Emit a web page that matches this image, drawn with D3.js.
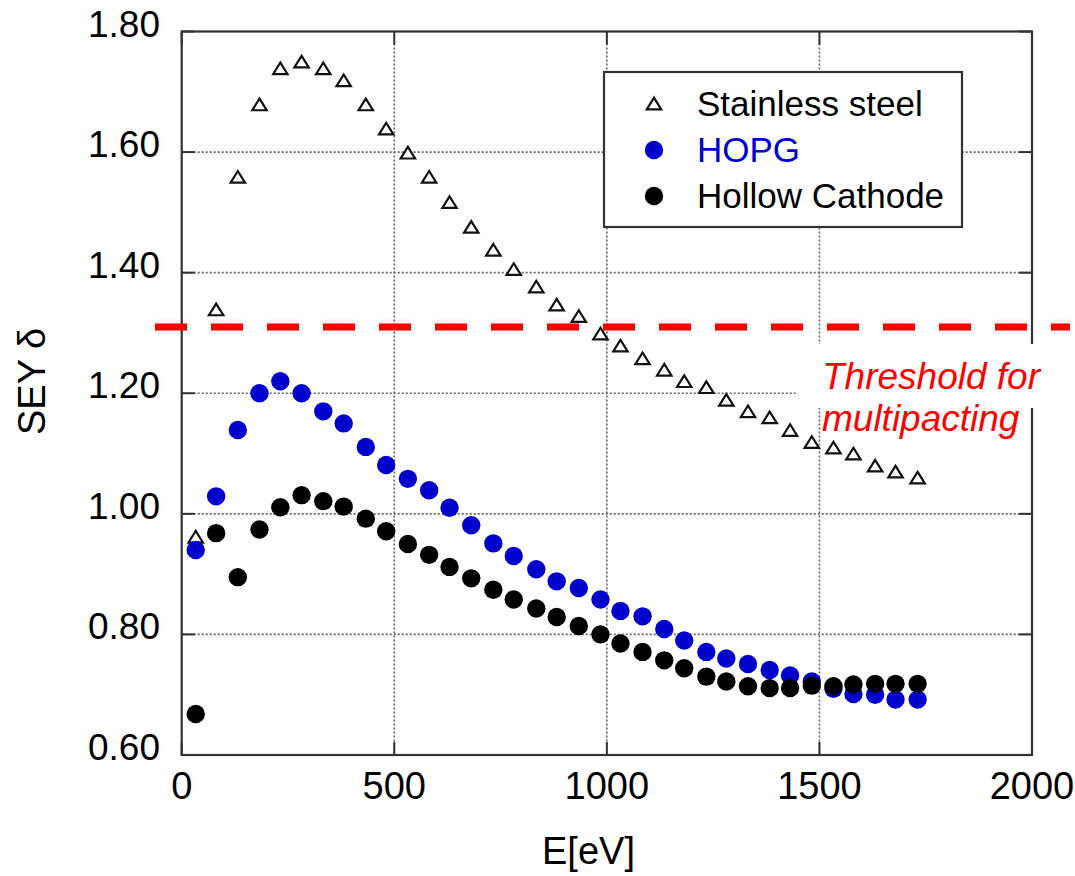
<!DOCTYPE html>
<html>
<head>
<meta charset="utf-8">
<script src="https://cdn.jsdelivr.net/npm/d3@7"></script>
<style>
  html, body { margin: 0; padding: 0; background: #fff; }
  svg text { font-family: "Liberation Sans", Arial, sans-serif; }
</style>
</head>
<body>
<svg id="chart" width="1075" height="876"></svg>
<script>
// ---- data ----
const energy = [33, 81, 132, 183, 232, 282, 333, 381, 433, 481, 532, 582, 630, 681, 733, 781, 834, 882, 934, 985, 1032, 1084, 1135, 1182, 1234, 1281, 1332, 1383, 1431, 1482, 1533, 1580, 1631, 1679, 1731];
const stainless = [0.962, 1.339, 1.559, 1.679, 1.739, 1.75, 1.739, 1.719, 1.679, 1.639, 1.599, 1.559, 1.517, 1.476, 1.438, 1.406, 1.377, 1.347, 1.328, 1.299, 1.279, 1.258, 1.239, 1.22, 1.21, 1.189, 1.17, 1.16, 1.139, 1.119, 1.11, 1.10, 1.08, 1.07, 1.06];
const hopg = [0.940, 1.029, 1.139, 1.200, 1.220, 1.200, 1.170, 1.150, 1.111, 1.081, 1.058, 1.039, 1.010, 0.981, 0.951, 0.930, 0.908, 0.888, 0.877, 0.858, 0.839, 0.830, 0.809, 0.790, 0.771, 0.760, 0.751, 0.741, 0.732, 0.722, 0.710, 0.701, 0.700, 0.692, 0.692];
const hollow = [0.668, 0.968, 0.895, 0.974, 1.011, 1.031, 1.021, 1.012, 0.992, 0.971, 0.950, 0.932, 0.912, 0.893, 0.874, 0.858, 0.843, 0.829, 0.814, 0.800, 0.785, 0.771, 0.757, 0.744, 0.730, 0.722, 0.714, 0.711, 0.711, 0.715, 0.714, 0.717, 0.718, 0.718, 0.718];
const threshold = 1.31;
const xTicks = [0, 500, 1000, 1500, 2000];
const yTicks = [0.6, 0.8, 1.0, 1.2, 1.4, 1.6, 1.8];
const seriesNames = ["Stainless steel", "HOPG", "Hollow Cathode"];
const thresholdLabel = ["Threshold for", "multipacting"];

// ---- layout ----
const svg = d3.select("#chart");
const L = 181.7, R = 1032, T = 31.5, B = 755;
const x = d3.scaleLinear().domain([0, 2000]).range([L, R]);
const y = d3.scaleLinear().domain([0.6, 1.8]).range([B, T]);
const frameCol = "#333";
const gridCol = "#666";
const tickLen = 13;

// grid
const g = svg.append("g");
g.selectAll(".gx").data(xTicks.filter(d => d > 0 && d < 2000)).enter().append("line")
  .attr("x1", d => x(d)).attr("x2", d => x(d)).attr("y1", T).attr("y2", B)
  .attr("stroke", gridCol).attr("stroke-width", 1.6).attr("stroke-dasharray", "2,2");
g.selectAll(".gy").data(yTicks.filter(d => d > 0.6 && d < 1.8)).enter().append("line")
  .attr("x1", L).attr("x2", R).attr("y1", d => y(d)).attr("y2", d => y(d))
  .attr("stroke", gridCol).attr("stroke-width", 1.6).attr("stroke-dasharray", "2,2");

// inward ticks
xTicks.forEach(d => {
  g.append("line").attr("x1", x(d)).attr("x2", x(d)).attr("y1", B).attr("y2", B - tickLen).attr("stroke", frameCol).attr("stroke-width", 2);
  g.append("line").attr("x1", x(d)).attr("x2", x(d)).attr("y1", T).attr("y2", T + tickLen).attr("stroke", frameCol).attr("stroke-width", 2);
});
yTicks.forEach(d => {
  g.append("line").attr("x1", L).attr("x2", L + tickLen).attr("y1", y(d)).attr("y2", y(d)).attr("stroke", frameCol).attr("stroke-width", 2);
  g.append("line").attr("x1", R).attr("x2", R - tickLen).attr("y1", y(d)).attr("y2", y(d)).attr("stroke", frameCol).attr("stroke-width", 2);
});

// frame
svg.append("rect").attr("x", L).attr("y", T).attr("width", R - L).attr("height", B - T)
  .attr("fill", "none").attr("stroke", frameCol).attr("stroke-width", 2.2);

// tick labels
svg.selectAll(".yl").data(yTicks).enter().append("text")
  .attr("x", 160).attr("y", d => y(d) + 5).attr("text-anchor", "end")
  .attr("font-size", 37).attr("fill", "#000").text(d => d3.format(".2f")(d));
svg.selectAll(".xl").data(xTicks).enter().append("text")
  .attr("x", d => x(d)).attr("y", B + 44).attr("text-anchor", "middle")
  .attr("font-size", 38).attr("fill", "#000").text(d => d);

// axis titles
svg.append("text").attr("x", 588.5).attr("y", 864).attr("text-anchor", "middle")
  .attr("font-size", 38).text("E[eV]");
svg.append("text").attr("transform", "translate(45,435) rotate(-90)").attr("text-anchor", "start")
  .attr("font-size", 38).text("SEY \u03b4");

// threshold text with white background
svg.append("rect").attr("x", 797).attr("y", 344).attr("width", 250).attr("height", 64).attr("fill", "#fff");
svg.selectAll(".tl").data(thresholdLabel).enter().append("text")
  .attr("x", 822).attr("y", (d, i) => 389 + i * 42)
  .attr("font-size", 37).attr("font-style", "italic").attr("fill", "#ff0000").text(d => d);

// markers
const tri = "M0,-5.8 L7.2,5.8 L-7.2,5.8 Z";
svg.selectAll(".ss").data(energy).enter().append("path")
  .attr("d", tri).attr("transform", (d, i) => `translate(${x(d)},${y(stainless[i])})`)
  .attr("fill", "#fff").attr("stroke", "#111").attr("stroke-width", 2.2);
svg.selectAll(".hp").data(energy).enter().append("circle")
  .attr("cx", d => x(d)).attr("cy", (d, i) => y(hopg[i])).attr("r", 9.2).attr("fill", "#0000cc");
svg.selectAll(".hc").data(energy).enter().append("circle")
  .attr("cx", d => x(d)).attr("cy", (d, i) => y(hollow[i])).attr("r", 9.2).attr("fill", "#000");

// legend
const lg = svg.append("g");
lg.append("rect").attr("x", 604).attr("y", 72).attr("width", 358).attr("height", 155)
  .attr("fill", "#fff").attr("stroke", frameCol).attr("stroke-width", 2.2);
const rowY = [103.5, 150, 196];
const rowCol = ["#000", "#0000cc", "#000"];
lg.append("path").attr("d", tri).attr("transform", `translate(654,${rowY[0]})`)
  .attr("fill", "#fff").attr("stroke", "#111").attr("stroke-width", 2.2);
lg.append("circle").attr("cx", 654).attr("cy", rowY[1]).attr("r", 9.2).attr("fill", "#0000cc");
lg.append("circle").attr("cx", 654).attr("cy", rowY[2]).attr("r", 9.2).attr("fill", "#000");
lg.selectAll(".lt").data(seriesNames).enter().append("text")
  .attr("x", 697).attr("y", (d, i) => rowY[i] + 12)
  .attr("font-size", 35).attr("fill", (d, i) => rowCol[i]).text(d => d);

// threshold dashed line
svg.append("line").attr("x1", 155).attr("x2", 1070).attr("y1", y(threshold)).attr("y2", y(threshold))
  .attr("stroke", "#000").attr("stroke-opacity", 0.04).attr("stroke-width", 15).attr("stroke-dasharray", "32,24");
svg.append("line").attr("x1", 155).attr("x2", 1070).attr("y1", y(threshold)).attr("y2", y(threshold))
  .attr("stroke", "#ff0000").attr("stroke-width", 7).attr("stroke-dasharray", "32,24");
</script>
</body>
</html>
